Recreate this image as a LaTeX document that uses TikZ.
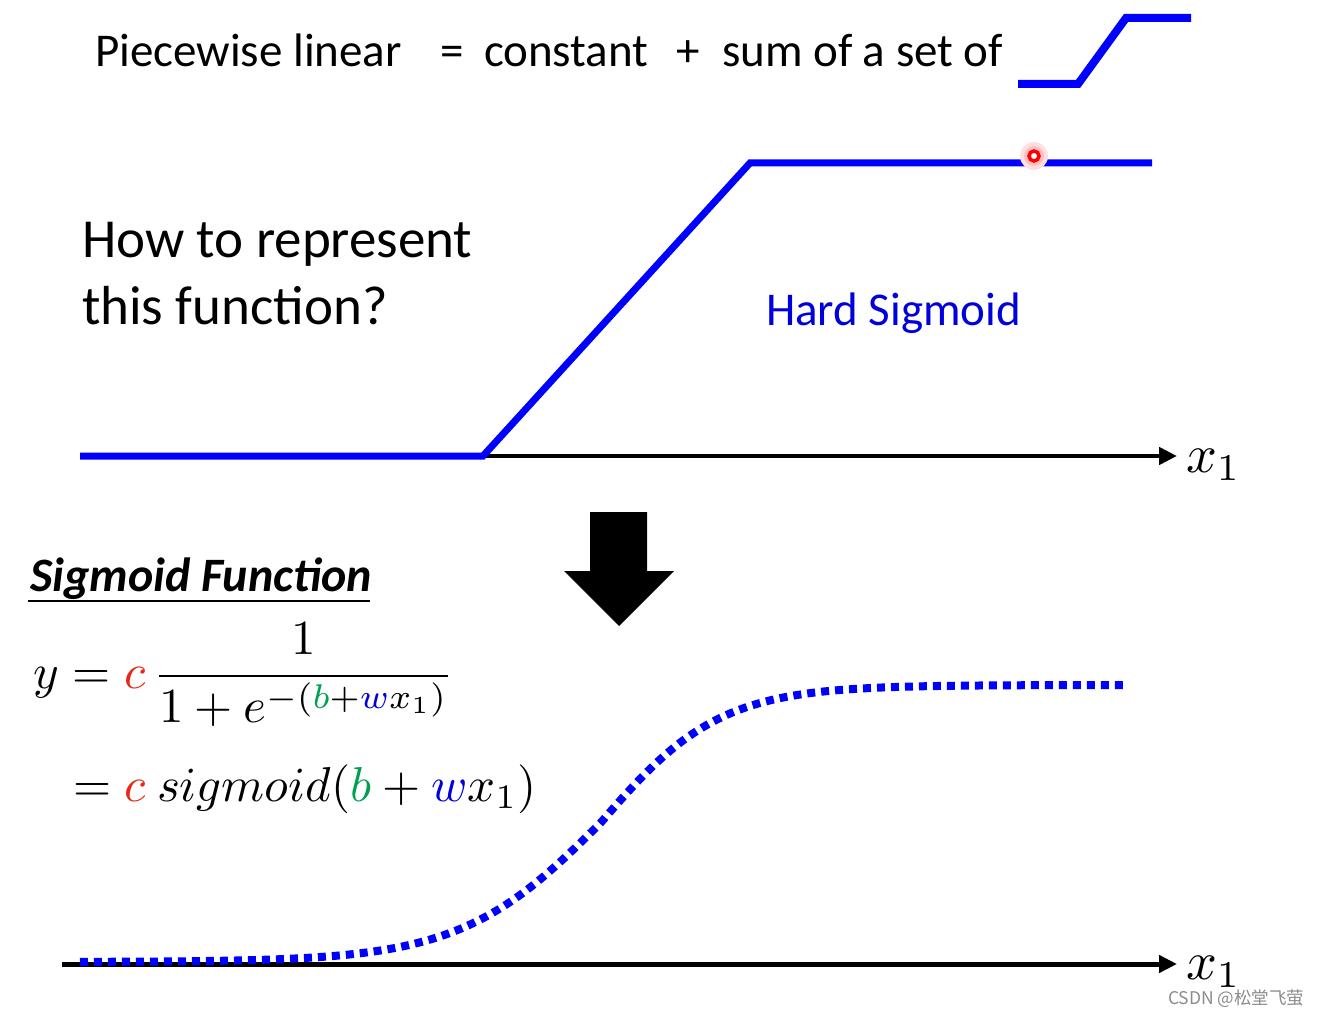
\documentclass[tikz,border=0pt]{standalone}
\usepackage{graphicx}
\usepackage{fontspec}
\setmainfont{Carlito}
\newfontfamily\cjkfont{Noto Sans CJK SC}
\usetikzlibrary{arrows.meta}
\definecolor{cred}{RGB}{230,40,20}
\definecolor{cgreen}{RGB}{0,160,80}
\definecolor{cblue}{RGB}{0,0,220}
\definecolor{lineblue}{RGB}{0,0,255}
\begin{document}
\begin{tikzpicture}[x=1pt,y=-1pt,
  txt/.style={inner sep=0pt, outer sep=0pt, anchor=base west},
  hardline/.style={draw=lineblue, line width=7pt},
  axisline/.style={draw=black, line width=4.5pt, -{Triangle[length=18pt,width=17pt]}},
  dotcurve/.style={draw=lineblue, line width=8pt, dash pattern=on 8pt off 6pt},
  mathbig/.style={txt, font=\fontsize{10}{12}\selectfont}
]
\fill[white] (0,0) rectangle (1320,1016);
\useasboundingbox (0,0) rectangle (1320,1016);

% ---- top line ----
\node[txt, font=\fontsize{47}{56}\selectfont] (pl) at (95,67) {Piecewise linear};
\node[txt, font=\fontsize{47}{56}\selectfont] (eq) at (440,67) {=};
\node[txt, font=\fontsize{47}{56}\selectfont] (const) at (484,67) {constant};
\node[txt, font=\fontsize{47}{56}\selectfont] (plus) at (676,67) {+};
\node[txt, font=\fontsize{47}{56}\selectfont] (sum) at (722,67) {sum of a set of};

% small hard sigmoid icon
\coordinate (i0) at (1018,84);
\coordinate (i1) at (1078,84);
\coordinate (i2) at (1126,18);
\coordinate (i3) at (1191,18);
\draw[draw=lineblue, line width=8pt] (i0) -- (i1) -- (i2) -- (i3);

% ---- question ----
\node[txt, font=\fontsize{55}{66}\selectfont] (q1) at (82,258) {How to represent};
\node[txt, font=\fontsize{55}{66}\selectfont] (q2) at (82,325) {this function?};

% ---- hard sigmoid ----
\coordinate (a0) at (483,456);
\coordinate (a1) at (1177,456);
\draw[axisline] (a0) -- (a1);
\coordinate (h0) at (80,456);
\coordinate (h1) at (483,456);
\coordinate (h2) at (750,163);
\coordinate (h3) at (1152,163);
\draw[hardline] (h0) -- (h1) -- (h2) -- (h3);
\node[txt, font=\fontsize{47}{56}\selectfont, text=cblue] (hs) at (766,326) {Hard Sigmoid};
\node[mathbig] (xa) at (1186,472) {\scalebox{5.4}{$x_1$}};

% red pointer dot
\coordinate (rd) at (1034,156);
\fill[red!12] (rd) circle (14pt);
\fill[red!25] (rd) circle (10pt);
\draw[red, line width=3.5pt, fill=white] (rd) circle (5pt);

% ---- big down arrow ----
\coordinate (d0) at (590,512);
\fill[black] (d0) -- (647,512) -- (647,571) -- (674,571) -- (619,626) -- (564,571) -- (590,571) -- cycle;

% ---- sigmoid function ----
\node[txt, font=\fontsize{48}{56}\selectfont\bfseries\itshape] (sf) at (30,591) {Sigmoid Function};
\draw[line width=2pt] (28,601) -- (370,601);

\node[mathbig] (f1) at (33,688)
  {\scalebox{4.9}{$\displaystyle y = {\color{cred}c}\,\frac{1}{1+e^{-({\color{cgreen}b}+{\color{cblue}w}x_1)}}$}};
\node[mathbig] (f2) at (73,801)
  {\scalebox{4.9}{$= {\color{cred}c}\ sigmoid({\color{cgreen}b}+{\color{cblue}w}x_1)$}};

% ---- bottom axis and curve ----
\coordinate (b0) at (62,964);
\coordinate (b1) at (1177,964);
\draw[axisline, line width=5pt] (b0) -- (b1);
\draw[dotcurve] plot[domain=80:1128, samples=160, smooth] (\x, {962 - 277/(1+exp(-(\x-600)/(60+10*(\x<600))))});
\node[mathbig] (xb) at (1186,979) {\scalebox{5.4}{$x_1$}};

% watermark
\node[txt, text=black!45, font=\fontsize{17.5}{20}\selectfont\cjkfont] (wm) at (1168,1004) {CSDN @松堂飞萤};
\end{tikzpicture}
\end{document}
